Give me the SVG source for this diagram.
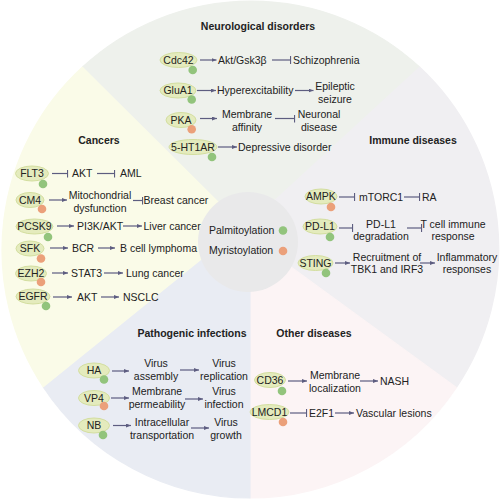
<svg xmlns="http://www.w3.org/2000/svg" width="500" height="500" viewBox="0 0 500 500">
<defs>
<style>
text{font-family:"Liberation Sans",Arial,sans-serif;font-size:10.5px;fill:#222;}
.t{font-weight:bold;text-anchor:middle;}
.m{text-anchor:middle;}
.n{fill:#e4ebbd;stroke:#d3de9f;stroke-width:1;}
.g{fill:#92c47c;}
.o{fill:#eba07a;}
.a{stroke:#5d5d80;stroke-width:1.2;fill:none;marker-end:url(#arr);}
.i{stroke:#5d5d80;stroke-width:1.2;fill:none;marker-end:url(#bar);}
.s{stroke-width:1.2;stroke-linejoin:round;}
</style>
<marker id="arr" markerUnits="userSpaceOnUse" markerWidth="5" markerHeight="4" refX="5" refY="2" orient="auto" viewBox="0 0 5 4"><path d="M0,0 L5,2 L0,4 Z" fill="#5d5d80"/></marker>
<marker id="bar" markerUnits="userSpaceOnUse" markerWidth="2" markerHeight="8" refX="1.2" refY="4" orient="auto" viewBox="0 0 2 8"><rect x="0" y="0" width="1.3" height="8" fill="#5d5d80"/></marker>
</defs>
<g id="background">
<circle cx="250" cy="250" r="247.5" fill="#eff0ee"/>
<path class="s" d="M248,242 L225,209 L82.3,67.3 A248,248 0 0 1 419.8,67.3 L270,205 Z" fill="#eef1ec" stroke="#eef1ec"/>
<path class="s" d="M248,242 L270,205 L419.8,67.3 A248,248 0 0 1 456.3,387.6 L280,259 Z" fill="#f0eff2" stroke="#f0eff2"/>
<path class="s" d="M248,242 L280,259 L456.3,387.6 A248,248 0 0 1 250,498 L250,280 Z" fill="#fcf4f5" stroke="#fcf4f5"/>
<path class="s" d="M248,242 L250,280 L250,498 A248,248 0 0 1 43.2,386.9 L210,252 Z" fill="#e9ecf3" stroke="#e9ecf3"/>
<path class="s" d="M248,242 L210,252 L43.2,386.9 A248,248 0 0 1 82.3,67.3 L225,209 Z" fill="#fafbe8" stroke="#fafbe8"/>
<circle cx="248" cy="242" r="50" fill="#e9e9ea"/>
</g>
<g id="titles">
<text class="t" x="258" y="29.5">Neurological disorders</text>
<text class="t" x="99" y="144">Cancers</text>
<text class="t" x="413" y="144">Immune diseases</text>
<text class="t" x="192" y="337">Pathogenic infections</text>
<text class="t" x="314" y="336.5">Other diseases</text>
</g>
<g id="legend">
<text x="209" y="233.5">Palmitoylation</text><circle class="g" cx="283" cy="230.5" r="4.3"/>
<text x="209" y="254">Myristoylation</text><circle class="o" cx="283" cy="251" r="4.3"/>
</g>
<g id="connectors">
<line class="a" x1="200" y1="60" x2="216.5" y2="60"/>
<line class="i" x1="272" y1="60" x2="291" y2="60"/>
<line class="a" x1="197" y1="90.5" x2="216" y2="90.5"/>
<line class="a" x1="295" y1="90.5" x2="313.5" y2="90.5"/>
<line class="a" x1="200" y1="118.5" x2="217" y2="118.5"/>
<line class="i" x1="275" y1="118.5" x2="295" y2="118.5"/>
<line class="a" x1="218" y1="147" x2="237" y2="147"/>
<line class="i" x1="52" y1="173.5" x2="68" y2="173.5"/>
<line class="i" x1="97" y1="173.5" x2="115" y2="173.5"/>
<line class="a" x1="49" y1="200" x2="67" y2="200"/>
<line class="i" x1="133" y1="200.5" x2="143" y2="200.5"/>
<line class="a" x1="57" y1="226" x2="74" y2="226"/>
<line class="a" x1="123" y1="226" x2="142" y2="226"/>
<line class="a" x1="50" y1="248" x2="68" y2="248"/>
<line class="a" x1="98" y1="248" x2="115" y2="248"/>
<line class="a" x1="52" y1="273" x2="68" y2="273"/>
<line class="a" x1="104" y1="273" x2="123" y2="273"/>
<line class="a" x1="53" y1="297" x2="72" y2="297"/>
<line class="a" x1="101" y1="297" x2="119" y2="297"/>
<line class="a" x1="112" y1="371" x2="129" y2="371"/>
<line class="a" x1="180" y1="370" x2="199" y2="370"/>
<line class="a" x1="111" y1="398" x2="129" y2="398"/>
<line class="a" x1="185" y1="399" x2="203" y2="399"/>
<line class="a" x1="113" y1="425.5" x2="131" y2="425.5"/>
<line class="a" x1="191" y1="428" x2="209" y2="428"/>
<line class="i" x1="339" y1="197" x2="355" y2="197"/>
<line class="i" x1="404" y1="197" x2="420" y2="197"/>
<line class="i" x1="339" y1="228" x2="353" y2="228"/>
<line class="i" x1="407" y1="228" x2="422" y2="228"/>
<line class="a" x1="335" y1="263" x2="350" y2="263"/>
<line class="a" x1="420" y1="263" x2="435" y2="263"/>
<line class="a" x1="288" y1="381" x2="307" y2="381"/>
<line class="a" x1="360" y1="381" x2="378" y2="381"/>
<line class="i" x1="290" y1="413" x2="307" y2="413"/>
<line class="a" x1="335" y1="413" x2="354" y2="413"/>
</g>
<g id="neuro">
<g id="cdc42"><ellipse class="n" cx="178.5" cy="60" rx="18.5" ry="7.5"/><circle class="g" cx="192.7" cy="70" r="4.3"/><text class="m" x="178.5" y="63.8">Cdc42</text></g>
<g id="akt-gsk"><text x="218" y="63.8">Akt/Gsk3β</text></g>
<g id="schizo"><text x="293" y="63.8">Schizophrenia</text></g>
<g id="glua1"><ellipse class="n" cx="178" cy="90.5" rx="18" ry="7.5"/><circle class="g" cx="191.7" cy="99.5" r="4.3"/><text class="m" x="178" y="94.3">GluA1</text></g>
<g id="hyper"><text x="217" y="94.3">Hyperexcitability</text></g>
<g id="epilepsy"><text class="m" x="335" y="90">Epileptic</text><text class="m" x="335" y="103">seizure</text></g>
<g id="pka"><ellipse class="n" cx="181" cy="120" rx="15" ry="7.5"/><circle class="o" cx="191.7" cy="129.3" r="4.3"/><text class="m" x="181" y="123.8">PKA</text></g>
<g id="memaff"><text class="m" x="247" y="118">Membrane</text><text class="m" x="247" y="130.5">affinity</text></g>
<g id="neuronal"><text class="m" x="319" y="118">Neuronal</text><text class="m" x="319" y="130.5">disease</text></g>
<g id="ht1ar"><ellipse class="n" cx="193" cy="147" rx="24" ry="7.5"/><circle class="g" cx="212" cy="157" r="4.3"/><text class="m" x="193" y="150.8">5-HT1AR</text></g>
<g id="depress"><text x="238" y="150.8">Depressive disorder</text></g>
</g>
<g id="cancers">
<g id="flt3"><ellipse class="n" cx="32" cy="173.5" rx="16.5" ry="7.5"/><circle class="g" cx="43" cy="184" r="4.3"/><text class="m" x="32" y="177.3">FLT3</text></g>
<g id="akt1"><text x="72" y="177.3">AKT</text></g>
<g id="aml"><text x="120" y="177.3">AML</text></g>
<g id="cm4"><ellipse class="n" cx="30" cy="200" rx="14" ry="7.5"/><circle class="o" cx="42" cy="209" r="4.3"/><text class="m" x="30" y="203.8">CM4</text></g>
<g id="mito"><text class="m" x="100" y="199">Mitochondrial</text><text class="m" x="100" y="211.5">dysfunction</text></g>
<g id="breast"><text x="143.5" y="204">Breast cancer</text></g>
<g id="pcsk9"><ellipse class="n" cx="34.5" cy="226.5" rx="18.5" ry="7.5"/><circle class="g" cx="48" cy="237" r="4.3"/><text class="m" x="34.5" y="230.3">PCSK9</text></g>
<g id="pi3k"><text x="77" y="230">PI3K/AKT</text></g>
<g id="liver"><text x="143.5" y="230">Liver cancer</text></g>
<g id="sfk"><ellipse class="n" cx="30" cy="248.5" rx="14" ry="7.5"/><circle class="o" cx="41" cy="258.5" r="4.3"/><text class="m" x="30" y="252.3">SFK</text></g>
<g id="bcr"><text x="72" y="252">BCR</text></g>
<g id="bcl"><text x="120" y="252">B cell lymphoma</text></g>
<g id="ezh2"><ellipse class="n" cx="31" cy="273.5" rx="15.5" ry="7.5"/><circle class="o" cx="41" cy="282" r="4.3"/><text class="m" x="31" y="277.3">EZH2</text></g>
<g id="stat3"><text x="71" y="277">STAT3</text></g>
<g id="lung"><text x="126" y="277">Lung cancer</text></g>
<g id="egfr"><ellipse class="n" cx="33" cy="296.5" rx="17" ry="7.5"/><circle class="g" cx="46" cy="306" r="4.3"/><text class="m" x="33" y="300.3">EGFR</text></g>
<g id="akt2"><text x="77" y="300.8">AKT</text></g>
<g id="nsclc"><text x="123" y="300.8">NSCLC</text></g>
</g>
<g id="pathogenic">
<g id="ha"><ellipse class="n" cx="94" cy="370.5" rx="15.5" ry="7.5"/><circle class="g" cx="104" cy="379.5" r="4.3"/><text class="m" x="94" y="374.3">HA</text></g>
<g id="vassembly"><text class="m" x="156" y="367">Virus</text><text class="m" x="156" y="379.5">assembly</text></g>
<g id="vrep"><text class="m" x="224" y="367">Virus</text><text class="m" x="224" y="379.5">replication</text></g>
<g id="vp4"><ellipse class="n" cx="94" cy="398" rx="15.5" ry="7.5"/><circle class="o" cx="104" cy="406" r="4.3"/><text class="m" x="94" y="401.8">VP4</text></g>
<g id="memperm"><text class="m" x="157" y="395">Membrane</text><text class="m" x="157" y="407.5">permeability</text></g>
<g id="vinf"><text class="m" x="224" y="395">Virus</text><text class="m" x="224" y="407.5">infection</text></g>
<g id="nb"><ellipse class="n" cx="94" cy="425.5" rx="15.5" ry="7.5"/><circle class="g" cx="103" cy="435" r="4.3"/><text class="m" x="94" y="429.3">NB</text></g>
<g id="intra"><text class="m" x="162" y="426">Intracellular</text><text class="m" x="162" y="438.5">transportation</text></g>
<g id="vgrowth"><text class="m" x="226" y="426">Virus</text><text class="m" x="226" y="438.5">growth</text></g>
</g>
<g id="immune">
<g id="ampk"><ellipse class="n" cx="321" cy="196.5" rx="16" ry="7.5"/><circle class="o" cx="331" cy="207" r="4.3"/><text class="m" x="321" y="200.3">AMPK</text></g>
<g id="mtorc1"><text x="359" y="200.8">mTORC1</text></g>
<g id="ra"><text x="422" y="200.8">RA</text></g>
<g id="pdl1"><ellipse class="n" cx="320" cy="226.5" rx="17" ry="7.5"/><circle class="g" cx="330" cy="237" r="4.3"/><text class="m" x="320" y="230.3">PD-L1</text></g>
<g id="pdl1deg"><text class="m" x="381" y="227.5">PD-L1</text><text class="m" x="381" y="240">degradation</text></g>
<g id="tcell"><text class="m" x="453" y="227.5">T cell immune</text><text class="m" x="453" y="240">response</text></g>
<g id="sting"><ellipse class="n" cx="315.5" cy="263" rx="17.5" ry="7.5"/><circle class="g" cx="326" cy="273" r="4.3"/><text class="m" x="315.5" y="266.8">STING</text></g>
<g id="recruit"><text class="m" x="387" y="260.5">Recruitment of</text><text class="m" x="387" y="273">TBK1 and IRF3</text></g>
<g id="inflam"><text class="m" x="467" y="260.5">Inflammatory</text><text class="m" x="467" y="273">responses</text></g>
</g>
<g id="other">
<g id="cd36"><ellipse class="n" cx="270" cy="380" rx="15.5" ry="7.5"/><circle class="g" cx="282" cy="391" r="4.3"/><text class="m" x="270" y="383.8">CD36</text></g>
<g id="memloc"><text class="m" x="335" y="379">Membrane</text><text class="m" x="335" y="391.5">localization</text></g>
<g id="nash"><text x="380" y="384.8">NASH</text></g>
<g id="lmcd1"><ellipse class="n" cx="269.5" cy="412" rx="19.5" ry="7.5"/><circle class="o" cx="283" cy="422" r="4.3"/><text class="m" x="269.5" y="415.8">LMCD1</text></g>
<g id="e2f1"><text x="309" y="416.8">E2F1</text></g>
<g id="vasc"><text x="356" y="416.8">Vascular lesions</text></g>
</g>
</svg>
